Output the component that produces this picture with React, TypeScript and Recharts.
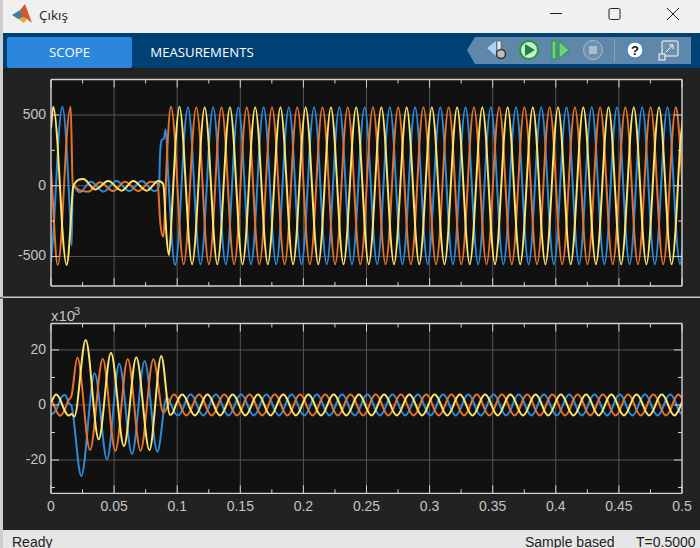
import React from "react";
import { LineChart, Line, XAxis, YAxis, CartesianGrid } from "recharts";

const xLabels = [0, 0.05, 0.1, 0.15, 0.2, 0.25, 0.3, 0.35, 0.4, 0.45, 0.5];
const xTicks = [0, 0.025, 0.05, 0.075, 0.1, 0.125, 0.15, 0.175, 0.2, 0.225, 0.25, 0.275, 0.3, 0.325, 0.35, 0.375, 0.4, 0.425, 0.45, 0.475, 0.5];
const topYLabels = [-500, 0, 500];
const topYTicks = [-500, -250, 0, 250, 500];
const botYLabels = [-20, 0, 20];
const botYTicks = [-30, -20, -10, 0, 10, 20];

// Upper panel: fault transient read per phase
const topYellowT = [0, 0.0018, 0.0053, 0.0088, 0.0124, 0.0155, 0.0177, 0.0256, 0.035, 0.0454, 0.056, 0.0652, 0.0758, 0.085, 0.089, 0.0912, 0.0935, 0.0955, 0.0985, 0.1018];
const topYellowV = [405, 558, 280, -280, -560, -280, 0, 47, -26, 33, -35, 33, -35, 33, 10, -310, -490, -240, 270, 558];
const topBlueT = [0, 0.0023, 0.0056, 0.009, 0.0123, 0.0155, 0.0164, 0.0172, 0.0225, 0.0317, 0.0415, 0.052, 0.062, 0.0718, 0.0819, 0.0856, 0.0864, 0.0877, 0.0895, 0.0909, 0.093, 0.0983, 0.1018];
const topBlueV = [-540, -280, 280, 558, 280, -280, -420, 0, -47, 28, -42, 33, -38, 33, -38, 0, 220, 323, 335, 398, 50, -560, -277];
const topOrangeT = [0, 0.0053, 0.0087, 0.012, 0.0156, 0.0172, 0.0296, 0.0388, 0.0494, 0.0586, 0.0692, 0.079, 0.0845, 0.0864, 0.089, 0.0917, 0.0951, 0.0985, 0.1018];
const topOrangeV = [122, -560, -280, 280, 558, 16, -42, 24, -38, 28, -38, 28, 16, -240, -360, 170, 558, 277, -277];

const topGrid = [
  0.1051, 0.1085, 0.1118, 0.1151, 0.1185, 0.1218, 0.1251, 0.1285, 0.1318, 0.1351, 0.1385, 0.1418,
  0.1451, 0.1485, 0.1518, 0.1551, 0.1585, 0.1618, 0.1651, 0.1685, 0.1718, 0.1751, 0.1785, 0.1818,
  0.1851, 0.1885, 0.1918, 0.1951, 0.1985, 0.2018, 0.2051, 0.2085, 0.2118, 0.2151, 0.2185, 0.2218,
  0.2251, 0.2285, 0.2318, 0.2351, 0.2385, 0.2418, 0.2451, 0.2485, 0.2518, 0.2551, 0.2585, 0.2618,
  0.2651, 0.2685, 0.2718, 0.2751, 0.2785, 0.2818, 0.2851, 0.2885, 0.2918, 0.2951, 0.2985, 0.3018,
  0.3051, 0.3085, 0.3118, 0.3151, 0.3185, 0.3218, 0.3251, 0.3285, 0.3318, 0.3351, 0.3385, 0.3418,
  0.3451, 0.3485, 0.3518, 0.3551, 0.3585, 0.3618, 0.3651, 0.3685, 0.3718, 0.3751, 0.3785, 0.3818,
  0.3851, 0.3885, 0.3918, 0.3951, 0.3985, 0.4018, 0.4051, 0.4085, 0.4118, 0.4151, 0.4185, 0.4218,
  0.4251, 0.4285, 0.4318, 0.4351, 0.4385, 0.4418, 0.4451, 0.4485, 0.4518, 0.4551, 0.4585, 0.4618,
  0.4651, 0.4685, 0.4718, 0.4751, 0.4785, 0.4818, 0.4851, 0.4885, 0.4918, 0.4951, 0.4985, 0.5018,
];
const topYellowSteady = [
  277, -277, -555, -277, 277, 555, 277, -277, -555, -277, 277, 555, 277, -277, -555, -277, 277, 555, 277, -277, -555, -277, 277, 555,
  277, -277, -555, -277, 277, 555, 277, -277, -555, -277, 277, 555, 277, -277, -555, -277, 277, 555, 277, -277, -555, -277, 277, 555,
  277, -277, -555, -277, 277, 555, 277, -277, -555, -277, 277, 555, 277, -277, -555, -277, 277, 555, 277, -277, -555, -277, 277, 555,
  277, -277, -555, -277, 277, 555, 277, -277, -555, -277, 277, 555, 277, -277, -555, -277, 277, 555, 277, -277, -555, -277, 277, 555,
  277, -277, -555, -277, 277, 555, 277, -277, -555, -277, 277, 555, 277, -277, -555, -277, 277, 555, 277, -277, -555, -277, 277, 555,
];
const topBlueSteady = [
  277, 555, 277, -277, -555, -277, 277, 555, 277, -277, -555, -277, 277, 555, 277, -277, -555, -277, 277, 555, 277, -277, -555, -277,
  277, 555, 277, -277, -555, -277, 277, 555, 277, -277, -555, -277, 277, 555, 277, -277, -555, -277, 277, 555, 277, -277, -555, -277,
  277, 555, 277, -277, -555, -277, 277, 555, 277, -277, -555, -277, 277, 555, 277, -277, -555, -277, 277, 555, 277, -277, -555, -277,
  277, 555, 277, -277, -555, -277, 277, 555, 277, -277, -555, -277, 277, 555, 277, -277, -555, -277, 277, 555, 277, -277, -555, -277,
  277, 555, 277, -277, -555, -277, 277, 555, 277, -277, -555, -277, 277, 555, 277, -277, -555, -277, 277, 555, 277, -277, -555, -277,
];
const topOrangeSteady = [
  -555, -277, 277, 555, 277, -277, -555, -277, 277, 555, 277, -277, -555, -277, 277, 555, 277, -277, -555, -277, 277, 555, 277, -277,
  -555, -277, 277, 555, 277, -277, -555, -277, 277, 555, 277, -277, -555, -277, 277, 555, 277, -277, -555, -277, 277, 555, 277, -277,
  -555, -277, 277, 555, 277, -277, -555, -277, 277, 555, 277, -277, -555, -277, 277, 555, 277, -277, -555, -277, 277, 555, 277, -277,
  -555, -277, 277, 555, 277, -277, -555, -277, 277, 555, 277, -277, -555, -277, 277, 555, 277, -277, -555, -277, 277, 555, 277, -277,
  -555, -277, 277, 555, 277, -277, -555, -277, 277, 555, 277, -277, -555, -277, 277, 555, 277, -277, -555, -277, 277, 555, 277, -277,
];

// Lower panel (values in thousands): fault transient read per phase
const botYellowT = [0, 0.004, 0.0073, 0.0107, 0.014, 0.0164, 0.0185, 0.0275, 0.0378, 0.0475, 0.0578, 0.0676, 0.078, 0.0874, 0.0943, 0.0974, 0.1007];
const botYellowV = [1.0, 3.8, 1.9, -1.9, -3.8, -3.3, -4.2, 23.6, -12.5, 19, -15, 17.3, -16.4, 17.8, -3.6, -1.9, 1.9];
const botBlueT = [0, 0.004, 0.0073, 0.011, 0.0145, 0.0164, 0.024, 0.0346, 0.0444, 0.0541, 0.0642, 0.0742, 0.0843, 0.0917, 0.096, 0.1007];
const botBlueV = [-3.6, -1.9, 1.9, 3.6, 0.5, -0.6, -25.8, 11.5, -19.8, 15, -17.8, 16, -17, 2.7, -0.8, -3.8];
const botOrangeT = [0, 0.004, 0.0071, 0.0107, 0.014, 0.0164, 0.0209, 0.0309, 0.041, 0.051, 0.0608, 0.071, 0.0811, 0.089, 0.0974, 0.1007];
const botOrangeV = [2.4, -1.9, -3.9, -1.9, 1.9, 3.6, 17.2, -16.4, 16.8, -16.7, 16.7, -16.6, 16.6, -2.8, 3.8, 1.9];

const botGrid = [
  0.104, 0.1073, 0.1107, 0.114, 0.1173, 0.1207, 0.124, 0.1273, 0.1307, 0.134, 0.1373, 0.1407,
  0.144, 0.1473, 0.1507, 0.154, 0.1573, 0.1607, 0.164, 0.1673, 0.1707, 0.174, 0.1773, 0.1807,
  0.184, 0.1873, 0.1907, 0.194, 0.1973, 0.2007, 0.204, 0.2073, 0.2107, 0.214, 0.2173, 0.2207,
  0.224, 0.2273, 0.2307, 0.234, 0.2373, 0.2407, 0.244, 0.2473, 0.2507, 0.254, 0.2573, 0.2607,
  0.264, 0.2673, 0.2707, 0.274, 0.2773, 0.2807, 0.284, 0.2873, 0.2907, 0.294, 0.2973, 0.3007,
  0.304, 0.3073, 0.3107, 0.314, 0.3173, 0.3207, 0.324, 0.3273, 0.3307, 0.334, 0.3373, 0.3407,
  0.344, 0.3473, 0.3507, 0.354, 0.3573, 0.3607, 0.364, 0.3673, 0.3707, 0.374, 0.3773, 0.3807,
  0.384, 0.3873, 0.3907, 0.394, 0.3973, 0.4007, 0.404, 0.4073, 0.4107, 0.414, 0.4173, 0.4207,
  0.424, 0.4273, 0.4307, 0.434, 0.4373, 0.4407, 0.444, 0.4473, 0.4507, 0.454, 0.4573, 0.4607,
  0.464, 0.4673, 0.4707, 0.474, 0.4773, 0.4807, 0.484, 0.4873, 0.4907, 0.494, 0.4973, 0.5007,
];
const botYellowSteady = [
  3.8, 1.9, -1.9, -3.8, -1.9, 1.9, 3.8, 1.9, -1.9, -3.8, -1.9, 1.9, 3.8, 1.9, -1.9, -3.8, -1.9, 1.9, 3.8, 1.9, -1.9, -3.8, -1.9, 1.9,
  3.8, 1.9, -1.9, -3.8, -1.9, 1.9, 3.8, 1.9, -1.9, -3.8, -1.9, 1.9, 3.8, 1.9, -1.9, -3.8, -1.9, 1.9, 3.8, 1.9, -1.9, -3.8, -1.9, 1.9,
  3.8, 1.9, -1.9, -3.8, -1.9, 1.9, 3.8, 1.9, -1.9, -3.8, -1.9, 1.9, 3.8, 1.9, -1.9, -3.8, -1.9, 1.9, 3.8, 1.9, -1.9, -3.8, -1.9, 1.9,
  3.8, 1.9, -1.9, -3.8, -1.9, 1.9, 3.8, 1.9, -1.9, -3.8, -1.9, 1.9, 3.8, 1.9, -1.9, -3.8, -1.9, 1.9, 3.8, 1.9, -1.9, -3.8, -1.9, 1.9,
  3.8, 1.9, -1.9, -3.8, -1.9, 1.9, 3.8, 1.9, -1.9, -3.8, -1.9, 1.9, 3.8, 1.9, -1.9, -3.8, -1.9, 1.9, 3.8, 1.9, -1.9, -3.8, -1.9, 1.9,
];
const botBlueSteady = [
  -1.9, 1.9, 3.8, 1.9, -1.9, -3.8, -1.9, 1.9, 3.8, 1.9, -1.9, -3.8, -1.9, 1.9, 3.8, 1.9, -1.9, -3.8, -1.9, 1.9, 3.8, 1.9, -1.9, -3.8,
  -1.9, 1.9, 3.8, 1.9, -1.9, -3.8, -1.9, 1.9, 3.8, 1.9, -1.9, -3.8, -1.9, 1.9, 3.8, 1.9, -1.9, -3.8, -1.9, 1.9, 3.8, 1.9, -1.9, -3.8,
  -1.9, 1.9, 3.8, 1.9, -1.9, -3.8, -1.9, 1.9, 3.8, 1.9, -1.9, -3.8, -1.9, 1.9, 3.8, 1.9, -1.9, -3.8, -1.9, 1.9, 3.8, 1.9, -1.9, -3.8,
  -1.9, 1.9, 3.8, 1.9, -1.9, -3.8, -1.9, 1.9, 3.8, 1.9, -1.9, -3.8, -1.9, 1.9, 3.8, 1.9, -1.9, -3.8, -1.9, 1.9, 3.8, 1.9, -1.9, -3.8,
  -1.9, 1.9, 3.8, 1.9, -1.9, -3.8, -1.9, 1.9, 3.8, 1.9, -1.9, -3.8, -1.9, 1.9, 3.8, 1.9, -1.9, -3.8, -1.9, 1.9, 3.8, 1.9, -1.9, -3.8,
];
const botOrangeSteady = [
  -1.9, -3.8, -1.9, 1.9, 3.8, 1.9, -1.9, -3.8, -1.9, 1.9, 3.8, 1.9, -1.9, -3.8, -1.9, 1.9, 3.8, 1.9, -1.9, -3.8, -1.9, 1.9, 3.8, 1.9,
  -1.9, -3.8, -1.9, 1.9, 3.8, 1.9, -1.9, -3.8, -1.9, 1.9, 3.8, 1.9, -1.9, -3.8, -1.9, 1.9, 3.8, 1.9, -1.9, -3.8, -1.9, 1.9, 3.8, 1.9,
  -1.9, -3.8, -1.9, 1.9, 3.8, 1.9, -1.9, -3.8, -1.9, 1.9, 3.8, 1.9, -1.9, -3.8, -1.9, 1.9, 3.8, 1.9, -1.9, -3.8, -1.9, 1.9, 3.8, 1.9,
  -1.9, -3.8, -1.9, 1.9, 3.8, 1.9, -1.9, -3.8, -1.9, 1.9, 3.8, 1.9, -1.9, -3.8, -1.9, 1.9, 3.8, 1.9, -1.9, -3.8, -1.9, 1.9, 3.8, 1.9,
  -1.9, -3.8, -1.9, 1.9, 3.8, 1.9, -1.9, -3.8, -1.9, 1.9, 3.8, 1.9, -1.9, -3.8, -1.9, 1.9, 3.8, 1.9, -1.9, -3.8, -1.9, 1.9, 3.8, 1.9,
];

const BLUE = "#2b8cdc";
const ORANGE = "#e5732c";
const YELLOW = "#fde46a";
const FONT = "'Liberation Sans', Arial, sans-serif";
const UI = "'Open Sans', 'Noto Sans', sans-serif";
const TICK = "#c4c4c4";
const BOX = "#d2d2d2";

function rows(times: number[], values: number[]) {
  return times.map((t, i) => ({ t, v: values[i] }));
}

// Line interpolation: monotone between samples, with tangents from a wider stencil
// so that a wave sampled six times a cycle keeps a round shoulder.
function roundCurve(ctx: any) {
  let xs: number[] = [];
  let ys: number[] = [];
  return {
    areaStart() {},
    areaEnd() {},
    lineStart() { xs = []; ys = []; },
    point(x: number, y: number) { xs.push(+x); ys.push(+y); },
    lineEnd() {
      const n = xs.length;
      if (n === 0) return;
      ctx.moveTo(xs[0], ys[0]);
      const s: number[] = [];
      for (let i = 0; i < n - 1; i++) s.push((ys[i + 1] - ys[i]) / Math.max(xs[i + 1] - xs[i], 1e-6));
      const d: number[] = new Array(n).fill(0);
      for (let i = 1; i < n - 1; i++) {
        if (s[i - 1] * s[i] <= 0) continue;
        const c1 = (ys[i + 1] - ys[i - 1]) / (xs[i + 1] - xs[i - 1]);
        let v = c1;
        if (i >= 2 && i < n - 2) {
          const c2 = (ys[i + 2] - ys[i - 2]) / (xs[i + 2] - xs[i - 2]);
          v = (4 * c1 - c2) / 3;
        }
        const lim = 3 * Math.min(Math.abs(s[i - 1]), Math.abs(s[i]));
        d[i] = Math.sign(s[i]) * Math.min(Math.abs(v), lim);
      }
      if (n > 1) { d[0] = s[0]; d[n - 1] = s[n - 2]; }
      for (let i = 0; i < n - 1; i++) {
        const h = (xs[i + 1] - xs[i]) / 3;
        ctx.bezierCurveTo(xs[i] + h, ys[i] + d[i] * h, xs[i + 1] - h, ys[i + 1] - d[i + 1] * h, xs[i + 1], ys[i + 1]);
      }
    },
  };
}

function xTick(side: "top" | "bottom", showLabels: boolean) {
  return (p: any) => {
    const major = xLabels.includes(p.payload.value);
    const dir = side === "bottom" ? -1 : 1;
    return (
      <g>
        <line x1={p.x} x2={p.x} y1={p.y} y2={p.y + dir * (major ? 8 : 4)} stroke={BOX} strokeWidth={1} />
        {showLabels && major && (
          <text x={p.x} y={p.y + 18} textAnchor="middle" fontFamily={FONT} fontSize={14} fill={TICK}>
            {p.payload.value}
          </text>
        )}
      </g>
    );
  };
}

function yTick(side: "left" | "right", labels: number[]) {
  return (p: any) => {
    const major = labels.includes(p.payload.value);
    const dir = side === "left" ? 1 : -1;
    return (
      <g>
        <line x1={p.x} x2={p.x + dir * (major ? 8 : 4)} y1={p.y} y2={p.y} stroke={BOX} strokeWidth={1} />
        {side === "left" && major && (
          <text x={p.x - 5} y={p.y + 4} textAnchor="end" fontFamily={FONT} fontSize={14} fill={TICK}>
            {p.payload.value}
          </text>
        )}
      </g>
    );
  };
}

function Panel(props: {
  top: number; height: number; marginTop: number; marginBottom: number;
  domain: [number, number]; yTicks: number[]; yLabels: number[]; showX: boolean;
  blue: { t: number; v: number }[]; orange: { t: number; v: number }[]; yellow: { t: number; v: number }[];
}) {
  const { top, height, marginTop, marginBottom, domain, yTicks, yLabels, showX, blue, orange, yellow } = props;
  const axisLine = { stroke: BOX, strokeWidth: 1.3 };
  return (
    <div style={{ position: "absolute", left: 0, top, width: 700, height }}>
      <LineChart width={700} height={height} margin={{ top: marginTop - 1, bottom: marginBottom - 1, left: 50, right: 17 }}>
        <CartesianGrid fill="#111111" fillOpacity={1} stroke="#565656" strokeWidth={1}
          verticalValues={xLabels} horizontalValues={yLabels} />
        <XAxis dataKey="t" type="number" domain={[0, 0.5]} ticks={xTicks} interval={0} allowDataOverflow height={1}
          tickSize={0} tickMargin={0} axisLine={axisLine} tickLine={false} tick={xTick("bottom", showX)} />
        <XAxis xAxisId="top" orientation="top" dataKey="t" type="number" domain={[0, 0.5]} ticks={xTicks} interval={0} allowDataOverflow height={1}
          tickSize={0} tickMargin={0} axisLine={axisLine} tickLine={false} tick={xTick("top", false)} />
        <YAxis type="number" domain={domain} ticks={yTicks} interval={0} allowDataOverflow width={1}
          tickSize={0} tickMargin={0} axisLine={axisLine} tickLine={false} tick={yTick("left", yLabels)} />
        <YAxis yAxisId="right" orientation="right" type="number" domain={domain} ticks={yTicks} interval={0} allowDataOverflow width={1}
          tickSize={0} tickMargin={0} axisLine={axisLine} tickLine={false} tick={yTick("right", yLabels)} />
        <Line data={blue} dataKey="v" type={roundCurve as any} stroke={BLUE} strokeWidth={2} dot={false} isAnimationActive={false} />
        <Line data={orange} dataKey="v" type={roundCurve as any} stroke={ORANGE} strokeWidth={2} dot={false} isAnimationActive={false} />
        <Line data={yellow} dataKey="v" type={roundCurve as any} stroke={YELLOW} strokeWidth={2} dot={false} isAnimationActive={false} />
      </LineChart>
    </div>
  );
}

function Chrome() {
  return (
    <svg width={700} height={548} style={{ position: "absolute", left: 0, top: 0 }}>
      <rect width={700} height={548} fill="#f0f0f0" />
      <rect x={0} y={0} width={3} height={548} fill="#cfcfcf" />
      <rect x={3} y={33} width={697} height={35} fill="#004175" />
      <rect x={7} y={37} width={125} height={31} rx={2} fill="#2a87dc" />
      <rect x={3} y={68} width={697} height={462} fill="#222222" />
      <rect x={3} y={530} width={697} height={18} fill="#e6e6e6" />
      <line x1={3} x2={700} y1={297.3} y2={297.3} stroke="#c8c8c8" strokeWidth={1.5} />
      <line x1={0} x2={3} y1={298} y2={298} stroke="#111" strokeWidth={1} />

      <polygon points="12,15 20,10 24,18 18,19" fill="#3d7fa6" />
      <polygon points="20,10 25,4 32,23 27,19 23,17" fill="#d9582b" />
      <polygon points="18,19 23,17 27,19 24,23" fill="#e8a33d" />

      <text x={39} y={20} fontFamily={UI} fontSize={13.5} fill="#222">Çıkış</text>
      <line x1={550} x2={562} y1={13.5} y2={13.5} stroke="#222" strokeWidth={1} />
      <rect x={609} y={8.5} width={11} height={11} rx={1.5} fill="none" stroke="#222" strokeWidth={1} />
      <path d="M667 8 L679 20 M679 8 L667 20" stroke="#222" strokeWidth={1} />

      <text x={69.5} y={57} textAnchor="middle" fontFamily={UI} fontSize={13.2} fill="#fff">SCOPE</text>
      <text x={202} y={57} textAnchor="middle" fontFamily={UI} fontSize={13.2} fill="#fff">MEASUREMENTS</text>

      <polygon points="467,50 475,37 691,37 691,64 475,64" fill="#5f87a9" />
      <polygon points="487,48 496,41 496,56" fill="#a9d3f5" />
      <rect x={497} y={41} width={4} height={11} fill="#dfe8ef" stroke="#444" strokeWidth={0.5} />
      <circle cx={501} cy={54} r={4.5} fill="#bbb" stroke="#333" strokeWidth={1.5} />
      <circle cx={529} cy={50} r={9} fill="#cfe8d2" stroke="#1d9a3c" strokeWidth={2} />
      <polygon points="525,44 535,50 525,56" fill="#17863a" />
      <rect x={552} y={41} width={4} height={18} fill="#6fd07a" stroke="#1d9a3c" strokeWidth={1} />
      <polygon points="559,41 569,50 559,59" fill="#6fd07a" stroke="#1d9a3c" strokeWidth={1} />
      <circle cx={593} cy={50} r={9.5} fill="#6d90ad" stroke="#a9bfd1" strokeWidth={1} />
      <rect x={589} y={46} width={8} height={8} fill="#a9bfd1" />
      <line x1={614.5} x2={614.5} y1={39} y2={62} stroke="#86a2b9" />
      <circle cx={635} cy={50} r={8} fill="#fff" stroke="#2a7fd0" strokeWidth={1} />
      <text x={635} y={55} textAnchor="middle" fontFamily={FONT} fontSize={13} fontWeight="bold" fill="#111">?</text>
      <rect x={662} y={41} width={16} height={15} rx={1} fill="#6d90ad" stroke="#fff" strokeWidth={1} />
      <rect x={659} y={54} width={6} height={6} fill="#6d90ad" stroke="#fff" strokeWidth={1} />
      <path d="M666 52 L673 45 M669 45 L673 45 L673 49" stroke="#fff" fill="none" strokeWidth={1} />

      <text x={12} y={547} fontFamily={FONT} fontSize={14} fill="#222">Ready</text>
      <text x={525} y={547} fontFamily={FONT} fontSize={14} fill="#222">Sample based</text>
      <text x={636} y={547} fontFamily={FONT} fontSize={14} fill="#222">T=0.5000</text>

      <text x={51} y={321} fontFamily={FONT} fontSize={15} fill={TICK}>x10</text>
      <text x={74} y={315} fontFamily={FONT} fontSize={11} fill={TICK}>3</text>
    </svg>
  );
}

export default function App() {
  return (
    <div style={{ position: "absolute", left: 0, top: 0, width: 700, height: 548, overflow: "hidden" }}>
      <Chrome />
      <Panel top={68} height={228} marginTop={11.5} marginBottom={10} domain={[-709, 751]}
        yTicks={topYTicks} yLabels={topYLabels} showX={false}
        blue={[...rows(topBlueT, topBlueV), ...rows(topGrid, topBlueSteady)]}
        orange={[...rows(topOrangeT, topOrangeV), ...rows(topGrid, topOrangeSteady)]}
        yellow={[...rows(topYellowT, topYellowV), ...rows(topGrid, topYellowSteady)]} />
      <Panel top={298} height={232} marginTop={25.5} marginBottom={36.7} domain={[-32.1, 29.6]}
        yTicks={botYTicks} yLabels={botYLabels} showX={true}
        blue={[...rows(botBlueT, botBlueV), ...rows(botGrid, botBlueSteady)]}
        orange={[...rows(botOrangeT, botOrangeV), ...rows(botGrid, botOrangeSteady)]}
        yellow={[...rows(botYellowT, botYellowV), ...rows(botGrid, botYellowSteady)]} />
    </div>
  );
}
